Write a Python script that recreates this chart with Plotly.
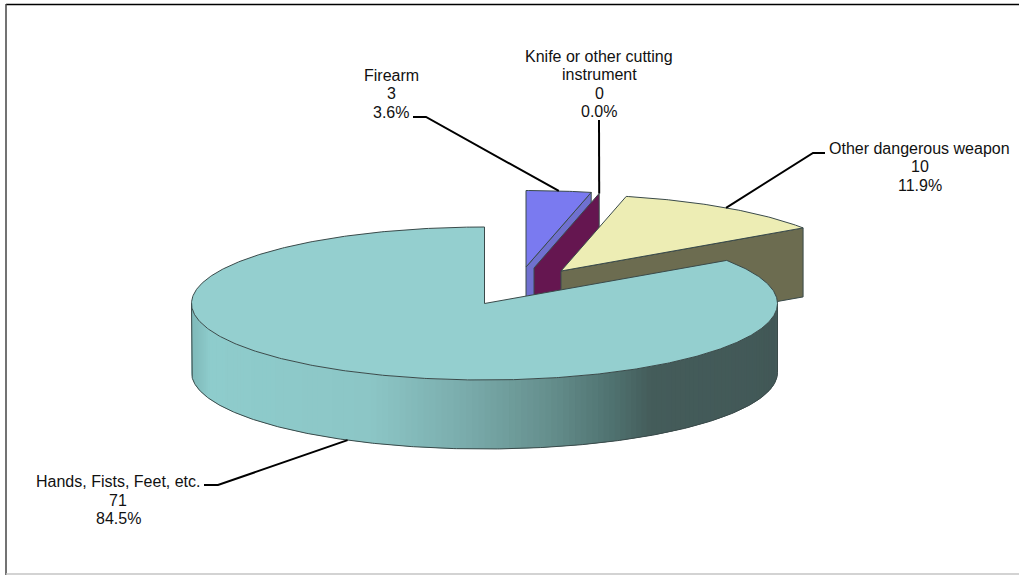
import math
import plotly.graph_objects as go

# ---- data ----
categories = [["Firearm"], ["Knife or other cutting", "instrument"], ["Other dangerous weapon"], ["Hands, Fists, Feet, etc."]]
values = [3, 0, 10, 71]

# ---- style / layout ----
W, H = 1019, 575
RX, RY, DEPTH = 293, 76.5, 69
CENTRES = [(526, 267), (534, 268), (561, 271), (484.5, 303.5)]
TOP_COLORS = ["#7a7af0", "#6b1a55", "#ededb4", "#94cfcf"]
WALL_COLORS = ["#6f70cf", "#651650", "#6c6c50", None]
EDGE = "#3a4a4a"
FONT = dict(family="Liberation Sans, Arial, sans-serif", size=16, color="#111111")
LINE_STEP = 18.6
# gradient of the round wall, by fraction of width
GRAD = [(0.0, (126, 184, 184)), (0.03, (142, 204, 204)), (0.30, (140, 198, 198)),
        (0.46, (122, 172, 172)), (0.60, (102, 144, 142)), (0.72, (78, 112, 110)),
        (0.78, (68, 92, 90)), (1.0, (66, 88, 87))]
LABEL_POS = [(391, 75), (599, 56), (919.5, 148), (118, 481.5)]
ELBOWS = [[(413, 117), (426, 117)], [(599, 120)], [(825, 153), (813, 153)], [(204, 485), (218, 485)]]

total = sum(values)
bounds = [0]
for v in values:
    bounds.append(bounds[-1] + v / total * 360)


def pt(c, theta, dz=0):
    t = math.radians(theta)
    return c[0] + RX * math.sin(t), c[1] - RY * math.cos(t) + dz


def arc(c, a, b, dz=0, n=None):
    n = n or max(2, int(abs(b - a)) * 2)
    return [pt(c, a + (b - a) * i / n, dz) for i in range(n + 1)]


def poly(points, fill, line=EDGE, width=1):
    xs = [p[0] for p in points] + [points[0][0]]
    ys = [p[1] for p in points] + [points[0][1]]
    return go.Scatter(x=xs, y=ys, mode="lines", fill="toself", fillcolor=fill,
                      line=dict(color=line if line else fill, width=width if line else 0),
                      hoverinfo="skip", showlegend=False)


def shade(f):
    for (f0, c0), (f1, c1) in zip(GRAD, GRAD[1:]):
        if f <= f1:
            k = (f - f0) / (f1 - f0)
            return "rgb(%d,%d,%d)" % tuple(round(a + (b - a) * k) for a, b in zip(c0, c1))
    return "rgb(%d,%d,%d)" % GRAD[-1][1]


fig = go.Figure()

# exploded slices, back to front: radial wall, then top
for i in range(3):
    c = CENTRES[i]
    end = bounds[i + 1]
    p = pt(c, end)
    wall = [c, p, (p[0], p[1] + DEPTH), (c[0], c[1] + DEPTH)]
    fig.add_trace(poly(wall, WALL_COLORS[i]))
    if values[i] > 0:
        fig.add_trace(poly([c] + arc(c, bounds[i], end), TOP_COLORS[i]))

# main slice: round wall in narrow gradient strips
c = CENTRES[3]
a0, a1 = 90, 270
steps = 150
for i in range(steps):
    t0 = a1 - (a1 - a0) * i / steps
    t1 = a1 - (a1 - a0) * (i + 2) / steps
    t1 = max(t1, a0)
    strip = arc(c, t0, t1, n=2) + arc(c, t1, t0, DEPTH, n=2)
    fx = (pt(c, t0)[0] - (c[0] - RX)) / (2 * RX)
    fig.add_trace(poly(strip, shade(fx), line=None))
outline = [pt(c, 270)] + arc(c, 270, 90, DEPTH) + [pt(c, 90)]
fig.add_trace(go.Scatter(x=[p[0] for p in outline], y=[p[1] for p in outline],
                         mode="lines", line=dict(color=EDGE, width=1), hoverinfo="skip", showlegend=False))
fig.add_trace(poly([c] + arc(c, bounds[3], bounds[4]), TOP_COLORS[3]))

# leader lines and labels
annotations = []
for i, name_lines in enumerate(categories):
    c = CENTRES[i]
    mid = (bounds[i] + bounds[i + 1]) / 2
    tip = pt(c, mid, DEPTH if i == 3 else 0)
    route = ELBOWS[i] + [tip]
    fig.add_trace(go.Scatter(x=[p[0] for p in route], y=[p[1] for p in route], mode="lines",
                             line=dict(color="#000000", width=2), hoverinfo="skip", showlegend=False))
    x, y = LABEL_POS[i]
    lines = name_lines + [str(values[i]), "%.1f%%" % (values[i] / total * 100)]
    for k, text in enumerate(lines):
        annotations.append(dict(x=x, y=y + k * LINE_STEP, xref="x", yref="y", xanchor="center",
                                yanchor="middle", showarrow=False, font=FONT, text=text))

frame = [
    dict(type="line", xref="x", yref="y", x0=6, x1=W, y0=4.5, y1=4.5, line=dict(color="#000000", width=1.5)),
    dict(type="line", xref="x", yref="y", x0=6, x1=6, y0=4, y1=H, line=dict(color="#444444", width=1.5)),
    dict(type="line", xref="x", yref="y", x0=6, x1=W, y0=574, y1=574, line=dict(color="#c4c4c4", width=1.5)),
]

fig.update_layout(
    width=W, height=H, margin=dict(l=0, r=0, t=0, b=0), autosize=False,
    paper_bgcolor="white", plot_bgcolor="white", showlegend=False,
    xaxis=dict(range=[0, W], visible=False, fixedrange=True),
    yaxis=dict(range=[H, 0], visible=False, fixedrange=True),
    annotations=annotations, shapes=frame,
)
fig.write_html("out.html", config={"displayModeBar": False},
               post_script="document.body.style.margin='0';document.documentElement.style.overflow='hidden';")
